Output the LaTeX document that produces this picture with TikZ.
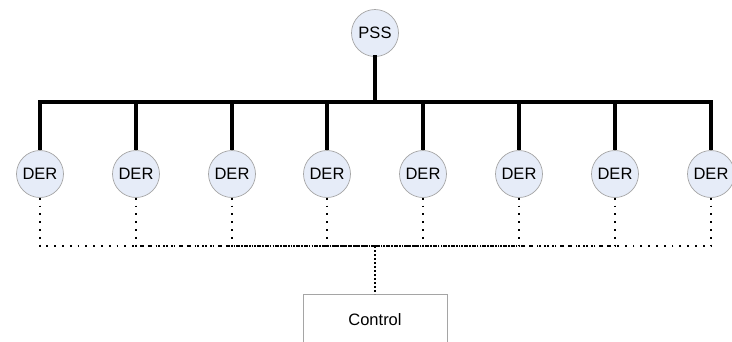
\documentclass[tikz,border=0pt]{standalone}
\usepackage{fontspec}
\setmainfont{Liberation Sans}
\definecolor{nodefill}{RGB}{230,236,248}
\definecolor{nodeline}{RGB}{165,165,165}
\begin{document}
\begin{tikzpicture}[x=1pt,y=-1pt,
  unit/.style={circle,draw=nodeline,fill=nodefill,line width=0.7pt,minimum size=47pt,inner sep=0pt,font=\fontsize{16.5}{19}\selectfont},
  bus/.style={line width=3.2pt,line cap=rect},
  dots/.style={line width=1.8pt,dash pattern=on 1.8pt off 6pt},
  densedots/.style={line width=1.8pt,dash pattern=on 1.8pt off 2.2pt},
  ctlbox/.style={draw=nodeline,line width=0.7pt,minimum width=144pt,minimum height=50pt,inner sep=0pt,font=\fontsize{16.5}{19}\selectfont}]
\useasboundingbox (0,0) rectangle (732,341);
\clip (0,0) rectangle (732,341);
\node[unit] (pss) at (375,33) {PSS};
\foreach \i/\x in {1/40,2/136,3/232,4/327,5/423,6/519,7/615,8/711}
  \node[unit] (d\i) at (\x,174) {DER};
\coordinate (busmid) at (375,102);
\coordinate (ctl) at (375,246);
\node[ctlbox,anchor=north] (control) at (375,294) {Control};
\draw[bus] (pss.south) -- (busmid);
\draw[bus] (d1.north |- busmid) -- (d8.north |- busmid);
\foreach \i in {1,...,8} {
  \draw[bus,line cap=butt] (d\i.north |- busmid) -- (d\i.north);
  \draw[dots] (d\i.south) |- (ctl);
}
\draw[densedots] (ctl) -- (control.north);
\end{tikzpicture}
\end{document}
